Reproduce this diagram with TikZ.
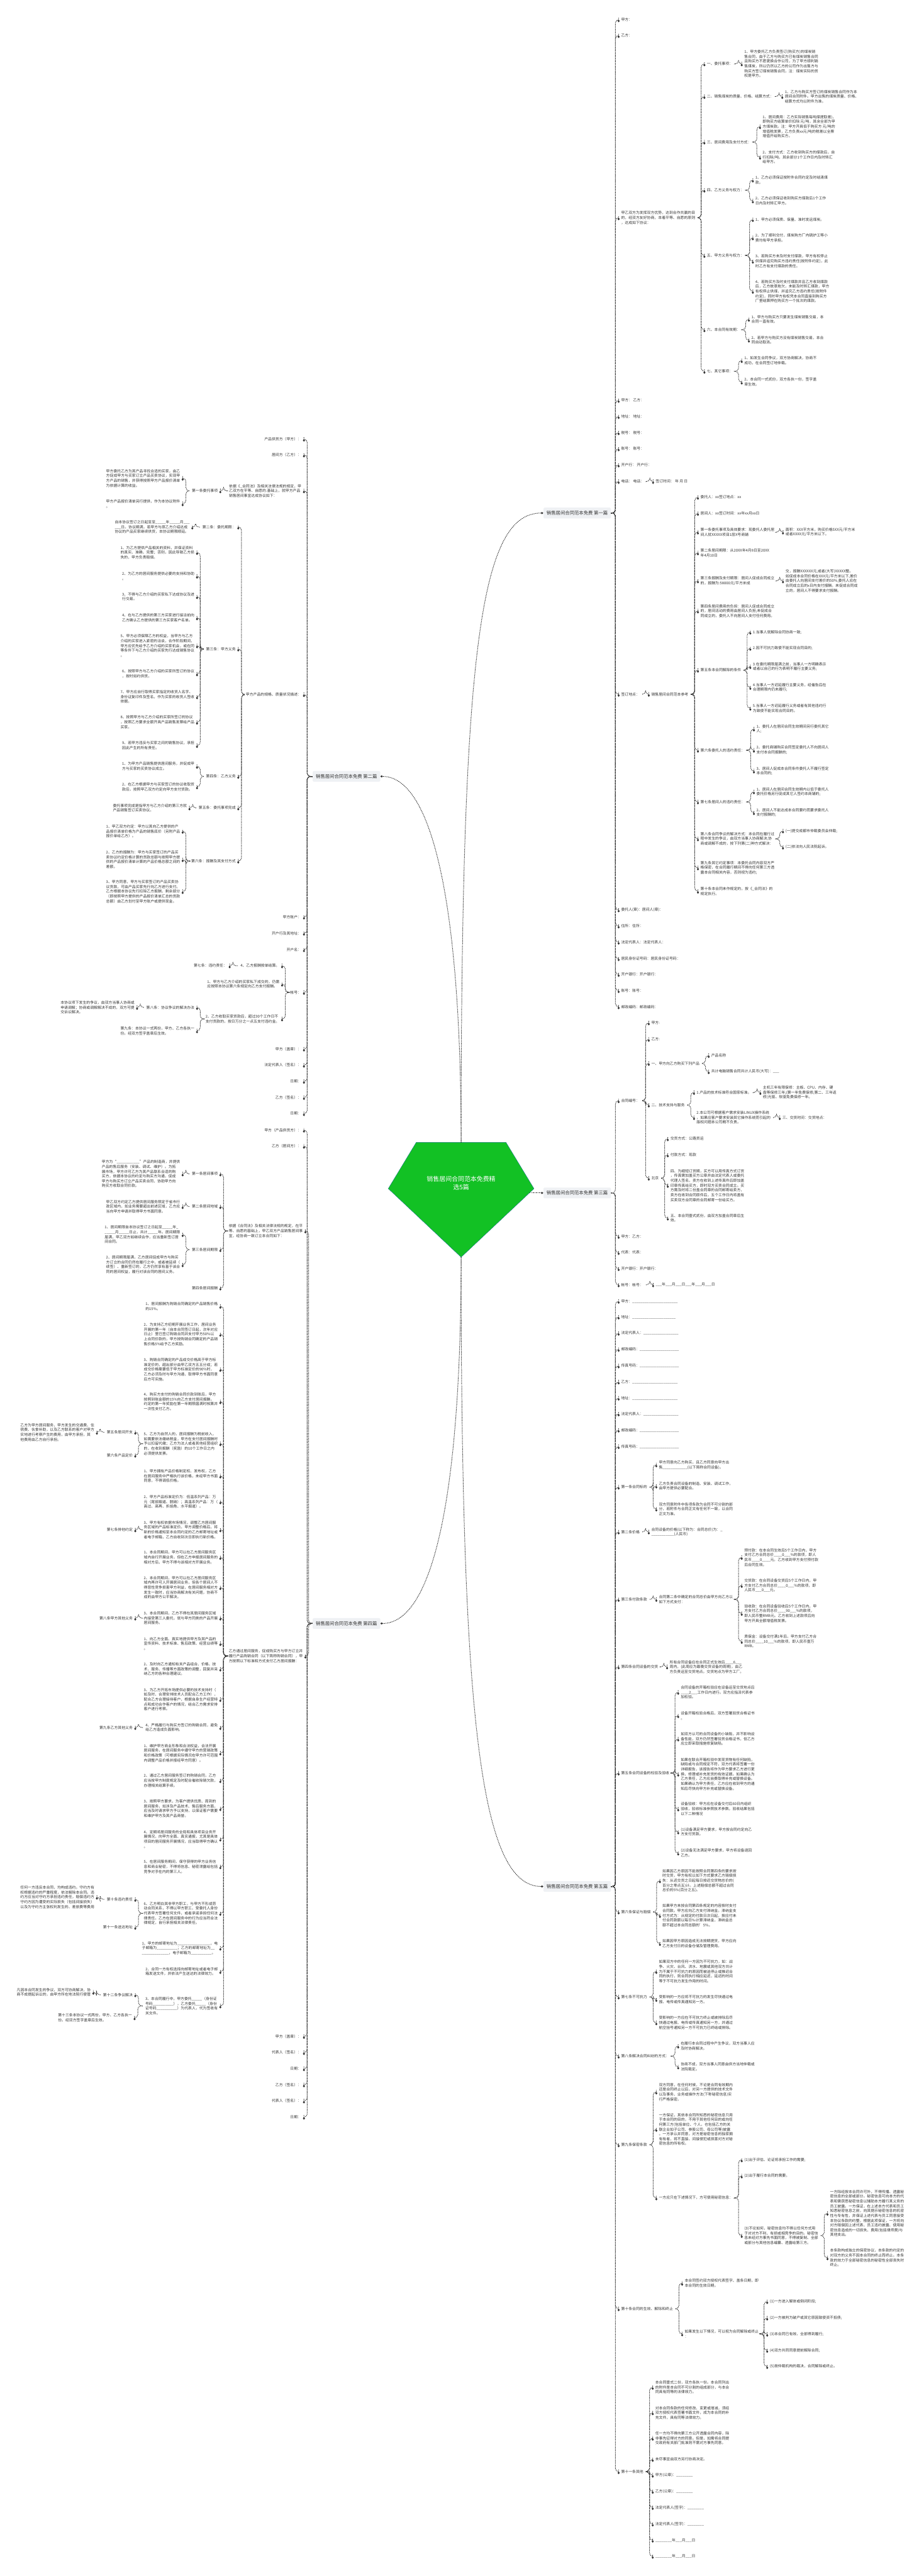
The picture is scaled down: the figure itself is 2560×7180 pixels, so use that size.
\documentclass[tikz,border=0pt]{standalone}
\usepackage{fontspec}
\setmainfont{Noto Sans CJK SC}
\usetikzlibrary{arrows.meta}
\definecolor{inkgray}{HTML}{333333}
\definecolor{titlebg}{HTML}{EFF1F4}
\definecolor{rootgreen}{RGB}{18,193,36}
\definecolor{rootedge}{RGB}{30,120,140}
\tikzset{
  txt/.style={font=\fontsize{10.3}{13.4}\selectfont, align=left, inner xsep=7pt, inner ysep=1pt, text=inkgray},
  rnode/.style={txt, anchor=west, xshift=-7pt},
  lnode/.style={txt, anchor=east, xshift=7pt},
  title/.style={fill=titlebg, rounded corners=3pt, font=\fontsize{12.9}{15}\selectfont, inner xsep=9pt, minimum height=30pt, text=inkgray},
  link/.style={draw=inkgray, line width=1.7pt, dash pattern=on 2.5pt off 2pt, rounded corners=9pt, -{Diamond[length=7pt,width=6pt]}},
}
\begin{document}
\catcode`\_=12
\begin{tikzpicture}[x=1pt, y=-1pt]
\useasboundingbox (0,0) rectangle (2560,7180);
% centre
\fill[rootgreen, draw=rootedge, line width=0.8pt] (1160,3184) -- (1410,3184) -- (1488,3313) -- (1285,3504) -- (1082,3313) -- cycle;
\coordinate (roottop) at (1285,3184);
\coordinate (rootright) at (1476,3325);
\coordinate (rootbot) at (1285,3504);
\node[font=\fontsize{17.4}{23}\selectfont, text=white, align=center] (root) at (1285,3298) {销售居间合同范本免费精\\选5篇};

% 第一篇
\node[title, anchor=west] (p1) at (1514,1430) {销售居间合同范本免费 第一篇};
\node[rnode] (p1a) at (1731,55) {甲方：};
\node[rnode] (p1b) at (1731,99) {乙方：};
\node[rnode] (p1c) at (1731,607) {甲乙双方为发挥双方优势，达到合作共赢的目\\的，经双方友好协商，本着平等、自愿的原则\\，达成如下协议：};
\node[rnode] (p1d) at (1731,1116) {甲方： 乙方：};
\node[rnode] (p1e) at (1731,1161) {地址： 地址：};
\node[rnode] (p1f) at (1731,1206) {税号： 税号：};
\node[rnode] (p1g) at (1731,1251) {账号： 账号：};
\node[rnode] (p1h) at (1731,1296) {开户行： 开户行：};
\node[rnode] (p1i) at (1731,1342) {电话： 电话：};
\node[rnode] (p1i1) at (1827,1342) {签订时间： 年 月 日};
\node[rnode] (p1j) at (1731,1935) {签订地点：};
\node[rnode] (p1j1) at (1815,1935) {销售居间合同范本参考};
\node[rnode] (p1k) at (1731,2536) {委托人(章)：居间人(章)：};
\node[rnode] (p1l) at (1731,2581) {住所：住所：};
\node[rnode] (p1m) at (1731,2626) {法定代表人：法定代表人：};
\node[rnode] (p1n) at (1731,2672) {居民身份证号码：居民身份证号码：};
\node[rnode] (p1o) at (1731,2716) {开户银行：开户银行：};
\node[rnode] (p1p) at (1731,2761) {账号：账号：};
\node[rnode] (p1q) at (1731,2806) {邮政编码：邮政编码：};

\node[rnode] (c1) at (1970,178) {一、委托事项：};
\node[rnode] (c1a) at (2074,178) {1、甲方委托乙方负责签订(购买方)的煤炭销\\售合同，由于乙方与购买方已有煤炭销售合同\\且购买方不愿更换合作公司，为了甲方顺利销\\售煤炭，所以仍然以乙方的公司作为出售方与\\购买方签订煤炭销售合同，注：煤炭实际的货\\权是甲方。};
\node[rnode] (c2) at (1970,269) {二、销售煤炭的质量、价格、结算方式：};
\node[rnode] (c2a) at (2187,269) {1、乙方与购买方签订的煤炭销售合同作为本\\居间合同附件。甲方出售的煤炭质量、价格、\\结算方式均以附件为准。};
\node[rnode] (c3) at (1970,396) {三、居间费用及支付方式：};
\node[rnode] (c3a) at (2125,353) {1、居间费用：乙方实际销售每吨煤提取差)，\\即购买方结算单价扣除 元/吨，其余全部为甲\\方煤炭款。注：甲方开具低于购买方 元/吨的\\增值税发票，乙方负责xx元/吨的税差以全票\\增值开给购买方。};
\node[rnode] (c3b) at (2125,438) {2、支付方式：乙方收到购买方的煤款后，自\\行扣除/吨，其余部分1个工作日内及时转汇\\给甲方。};
\node[rnode] (c4) at (1970,530) {四、乙方义务与权力：};
\node[rnode] (c4a) at (2105,502) {1、乙方必须保证按附件合同约定及时结清煤\\款。};
\node[rnode] (c4b) at (2105,560) {2、乙方必须保证收到购买方煤款后1个工作\\日内及时转汇甲方。};
\node[rnode] (c5) at (1970,712) {五、甲方义务与权力：};
\node[rnode] (c5a) at (2105,612) {1、甲方必须保质、保量、准时发运煤炭。};
\node[rnode] (c5b) at (2105,663) {2、为了顺利交付，煤炭购方厂内锅炉工等小\\费均有甲方承担。};
\node[rnode] (c5c) at (2105,728) {3、若购买方未及时支付煤款，甲方有权停止\\供煤并追究购买方违约责任(按附件约定)，此\\时乙方有支付煤款的责任。};
\node[rnode] (c5d) at (2105,812) {4、若购买方及时支付煤款并且乙方收到煤款\\后，乙方故意拖欠，未能及时转汇煤款，甲方\\有权停止供煤，并追究乙方违约责任(按附件\\约定)，同时甲方有权凭本合同直接到购买方\\厂里结算押在购买方一个批次的煤款。};
\node[rnode] (c6) at (1970,919) {六、本合同有效期：};
\node[rnode] (c6a) at (2094,890) {1、甲方与购买方只要发生煤炭销售交易，本\\合同一直有效。};
\node[rnode] (c6b) at (2094,948) {2、若甲方与购买方没有煤炭销售交易，本合\\同自动取消。};
\node[rnode] (c7) at (1970,1035) {七、其它事项：};
\node[rnode] (c7a) at (2074,1005) {1、如发生合同争议，双方协商解决，协商不\\成功，在合同签订地仲裁。};
\node[rnode] (c7b) at (2074,1065) {2、本合同一式贰份，双方各执一份，签字盖\\章生效。};

\node[rnode] (d1) at (1952,1386) {委托人：xx签订地点：xx};
\node[rnode] (d2) at (1952,1431) {居间人：xx签订时间：xx年xx月xx日};
\node[rnode] (d3) at (1952,1483) {第一条委托事项及具体要求：现委托人委托居\\间人就XXXXX项目1层X号商铺};
\node[rnode] (d3a) at (2189,1483) {面积：XXX平方米，购买价格5XX元/平方米\\或者XXXX元/平方米以下。};
\node[rnode] (d4) at (1952,1541) {第二条居间期限：从20XX年4月8日至20XX\\年4月10日};
\node[rnode] (d5) at (1952,1619) {第三条报酬及支付期限：居间人促成合同成立\\的，报酬为:58000元/平方米成};
\node[rnode] (d5a) at (2189,1619) {交，报酬XXXXXX元,或者(大写)XXXXX整。\\如促成本合同价格在XXX元/平方米以下,差价\\由委托人向居间支付差价的50\%,委托人应在\\合同成立后的x日内支付报酬。未促成合同成\\立的，居间人不得要求支付报酬。};
\node[rnode] (d6) at (1952,1703) {第四条居间费用的负担：居间人促成合同成立\\的，居间活动的费用由居间人负担;未促成合\\同成立的，委托人不向居间人支付任何费用。};
\node[rnode] (d7) at (1952,1868) {第五条本合同解除的条件};
\node[rnode] (d7a) at (2098,1762) {1.当事人就解除合同协商一致;};
\node[rnode] (d7b) at (2098,1807) {2.因不可抗力致使不能实现合同目的;};
\node[rnode] (d7c) at (2098,1858) {3.在委托期限届满之前，当事人一方明确表示\\或者以自己的行为表明不履行主要义务;};
\node[rnode] (d7d) at (2098,1916) {4.当事人一方迟延履行主要义务，经催告后在\\合理期限内仍未履行;};
\node[rnode] (d7e) at (2098,1974) {5.当事人一方迟延履行义务或者有其他违约行\\为致使不能实现合同目的。};
\node[rnode] (d8) at (1952,2091) {第六条委托人的违约责任：};
\node[rnode] (d8a) at (2108,2032) {1、委托人在居间合同生效期间另行委托其它\\人;};
\node[rnode] (d8b) at (2108,2091) {2、委托商铺购买合同签定委托人不向居间人\\支付本合同报酬的;};
\node[rnode] (d8c) at (2108,2149) {3、居间人促成本合同条件委托人不履行签定\\本合同的;};
\node[rnode] (d9) at (1952,2235) {第七条居间人的违约责任：};
\node[rnode] (d9a) at (2108,2207) {1、居间人在居间合同生效期内以低于委托人\\委托价格另行促成其它人签约本商铺的;};
\node[rnode] (d9b) at (2108,2265) {2、居间人不能达成本合同要约而要求委托人\\支付报酬的;};
\node[rnode] (d10) at (1952,2338) {第八条合同争议的解决方式：本合同在履行过\\程中发生的争议，由双方当事人协商解决;协\\商或调解不成的，按下列第(二)种方式解决：};
\node[rnode] (d10a) at (2189,2316) {(一)提交成都市仲裁委员会仲裁;};
\node[rnode] (d10b) at (2189,2361) {(二)依法向人民法院起诉。};
\node[rnode] (d11) at (1952,2419) {第九条其它约定事项：本委托合同内容双方严\\格保密，在合同履行期间不得向任何第三方透\\露本合同相关内容，否则视为违约;};
\node[rnode] (d12) at (1952,2484) {第十条本合同未作规定的，按《_合同法》的\\规定执行。};

% 第三篇
\node[title, anchor=west] (p3) at (1514,3325) {销售居间合同范本免费 第三篇};
\node[rnode] (q1) at (1731,3068) {合同编号：};
\node[rnode] (q1a) at (1815,2851) {甲方:};
\node[rnode] (q1b) at (1815,2897) {乙方:};
\node[rnode] (q1c) at (1815,2964) {一、甲方向乙方购买下列产品};
\node[rnode] (q1c1) at (1982,2942) {产品名称};
\node[rnode] (q1c2) at (1982,2987) {共计电脑销售合同共计人民币(大写)：___};
\node[rnode] (q1d) at (1815,3080) {二、技术支持与服务};
\node[rnode] (q1d1) at (1941,3045) {1.产品的技术标准符合国家标准。};
\node[rnode] (q1d1a) at (2126,3045) {主机三年有限保修：主板、CPU、内存、硬\\盘等保修三年;(第一年免费保修;第二、三年返\\修)光驱、软驱免费保修一年。};
\node[rnode] (q1d2) at (1941,3115) {2.本公司可根据客户需求安装LINUX操作系统\\，如果应客户要求安装其它操作系统而引起的\\版权问题本公司概不负责。};
\node[rnode] (q1d2a) at (2180,3115) {三、交货时间：交货地点：};
\node[rnode] (q1e) at (1815,3284) {北京};
\node[rnode] (q1e1) at (1868,3174) {交货方式：公路货运};
\node[rnode] (q1e2) at (1868,3219) {付款方式：现款};
\node[rnode] (q1e3) at (1868,3304) {四、为缩短订货期，买方可以用传真方式订货\\，传真需加盖买方公章并由法定代表人或委托\\代理人签名，卖方在收到上述传真件后即加盖\\印章传真给买方，即时双方买卖合同成立。买\\方需及时将二份盖合同章的合同邮寄给卖方，\\卖方在收到合同原件后，五个工作日内将盖有\\买卖双方合同章的合同邮寄一份给买方。};
\node[rnode] (q1e4) at (1868,3395) {五、本合同壹式贰份，由双方加盖合同章后生\\效。};
\node[rnode] (q2) at (1731,3446) {甲方：乙方：};
\node[rnode] (q3) at (1731,3491) {代表：代表：};
\node[rnode] (q4) at (1731,3536) {开户银行：开户银行：};
\node[rnode] (q5) at (1731,3581) {帐号：帐号：};
\node[rnode] (q5a) at (1827,3581) {___年___月___日___年___月___日};

% 第五篇
\node[title, anchor=west] (p5) at (1514,5258) {销售居间合同范本免费 第五篇};
\node[rnode] (r1) at (1731,3627) {甲方：______________________};
\node[rnode] (r2) at (1731,3671) {地址：_____________________};
\node[rnode] (r3) at (1731,3716) {法定代表人：_________________};
\node[rnode] (r4) at (1731,3761) {邮政编码：___________________};
\node[rnode] (r5) at (1731,3807) {传真号码：___________________};
\node[rnode] (r6) at (1731,3852) {乙方：______________________};
\node[rnode] (r7) at (1731,3897) {地址：______________________};
\node[rnode] (r8) at (1731,3941) {法定代表人：_________________};
\node[rnode] (r9) at (1731,3986) {邮政编码：___________________};
\node[rnode] (r10) at (1731,4032) {传真号码：___________________};
\node[rnode] (r11) at (1731,4145) {第一条合同标的};
\node[rnode] (r11a) at (1836,4083) {甲方同意向乙方购买，且乙方同意向甲方出\\售____________(以下简称合同设备)。};
\node[rnode] (r11b) at (1836,4142) {乙方负责合同设备的制造、安装、调试工作，\\由甲方提供必要配合。};
\node[rnode] (r11c) at (1836,4206) {双方同意附件中各项条款为合同不可分割的部\\分，若附件与合同正文有任何不一致，以合同\\正文为准。};
\node[rnode] (r12) at (1731,4270) {第二条价格};
\node[rnode] (r12a) at (1815,4270) {合同设备的价格(以下称为：合同总价)为：_\\___________(人民币)};
\node[rnode] (r13) at (1731,4458) {第三条付款条款};
\node[rnode] (r13a) at (1836,4458) {合同第二条中确定的合同总价由甲方向乙方以\\如下方式支付：};
\node[rnode] (r13a1) at (2074,4341) {预付款：在本合同生效后5个工作日内，甲方\\支付乙方合同总价____0___\%的款项，即人\\民币____0____元。乙方收到甲方支付预付款\\后合同生效。};
\node[rnode] (r13a2) at (2074,4419) {交货款：在合同设备交货后5个工作日内，甲\\方支付乙方合同总价____0___\%的款项，即\\人民币___0___元。};
\node[rnode] (r13a3) at (2074,4497) {验收款：在合同设备验收后5个工作日内，甲\\方支付乙方合同总价____90___\%的款项，\\即人民币整RMB元。乙方收到上述款项后向\\甲方开具全额增值税发票。};
\node[rnode] (r13a4) at (2074,4575) {质保金：设备交付满1年后，甲方支付乙方合\\同总价____10___\%的款项，即人民币壹万\\RMB。};
\node[rnode] (r14) at (1731,4646) {第四条合同设备的交货};
\node[rnode] (r14a) at (1866,4646) {所有合同设备应在合同正式生效后____6___\\周内，(此周应为最晚交货设备的周期)，由乙\\方负责运至交货地点。交货地点为甲方工厂。};
\node[rnode] (r15) at (1731,4942) {第五条合同设备的检验及验收};
\node[rnode] (r15a) at (1897,4717) {合同设备的开箱检验应在设备运至交货地点后\\____2___工作日内进行。双方应指派代表参\\加检验。};
\node[rnode] (r15b) at (1897,4782) {设备开箱检验合格后，双方签署验货合格证书\\。};
\node[rnode] (r15c) at (1897,4847) {如双方认可的合同设备的小缺陷，并不影响设\\备性能，双方仍然签署验货合格证书，但乙方\\应立即采取措施修复缺陷。};
\node[rnode] (r15d) at (1897,4945) {如果在联合开箱检验中发现货物有任何缺陷，\\缺陷或与合同规定不符，双方代表将签署一份\\详细报告，该报告将作为甲方要求乙方进行更\\换，修理或补充发货的有效证据。如果确认为\\乙方责任，乙方应自费取得补充或替换设备。\\如果确认为甲方责任，乙方应在收到甲方的通\\知后尽快向甲方补充或替换设备。};
\node[rnode] (r15e) at (1897,5042) {设备验收：甲方应在设备交付后60日内组织\\验收，验收标准参照技术参数。验收结果包括\\以下二种情况};
\node[rnode] (r15f) at (1897,5106) {(1)设备满足甲方要求，甲方按合同约定向乙\\方支付货款。};
\node[rnode] (r15g) at (1897,5165) {(2)设备无法满足甲方要求，甲方将设备退回\\乙方。};
\node[rnode] (r16) at (1731,5329) {第六条保证与赔偿};
\node[rnode] (r16a) at (1846,5242) {如果因乙方原因不能按照合同第四条的要求按\\时交货，甲方有权以如下方式要求乙方赔偿损\\失：从迟交货之日起每日按迟交货物总价的(\\百分之零点五)计。上述赔偿总额不超过合同\\总价的5\%(百分之五)。};
\node[rnode] (r16b) at (1846,5339) {如果甲方未按合同第四条规定的内容按时支付\\合同款。甲方应向乙方支付滞纳金。滞纳金支\\付方式为：从规定的付款日次日起，按应付未\\付合同款额以每日‰计算滞纳金，滞纳金总\\额不超过本合同总额的'5\%。};
\node[rnode] (r16c) at (1846,5417) {如果因甲方原因造成无法按期提货，甲方应向\\乙方支付日的设备仓储及管理费用。};
\node[rnode] (r17) at (1731,5566) {第七条不可抗力};
\node[rnode] (r17a) at (1836,5495) {如果双方中的任何一方因为不可抗力，如：战\\争、火灾、台风、洪水、地震或其他双方共计\\为不属于不可抗力的原因而被迫停止或推迟合\\同的执行，则合同执行相应延迟，延迟的时间\\等于不可抗力发生作用的时间。};
\node[rnode] (r17b) at (1836,5573) {受影响的一方应将不可抗力的发生尽快通过电\\报、电传或传真通知另一方。};
\node[rnode] (r17c) at (1836,5638) {受影响的一方应在不可抗力终止或被排除后尽\\快通过电报、电传或传真通知另一方，并通过\\航空挂号通知另一方不可抗力已终结或排除。};
\node[rnode] (r18) at (1731,5731) {第八条解决合同纠纷的方式：};
\node[rnode] (r18a) at (1897,5703) {在履行本合同过程中产生争议，双方当事人应\\及时协商解决。};
\node[rnode] (r18b) at (1897,5761) {协商不成，双方当事人同意由供方当地仲裁或\\法院裁定。};
\node[rnode] (r19) at (1731,5978) {第九条保密条款};
\node[rnode] (r19a) at (1836,5831) {双方同意，在任何时候，不论是合同有效期内\\还是合同终止以后，对另一方提供的技术文件\\以及事务、业务或操作方法(下称秘密信息)实\\行严格保密。};
\node[rnode] (r19b) at (1836,5935) {一方保证，其依本合同所知悉的秘密信息只用\\于本合同的目的，不用于其他任何目的或向任\\何第三方(包括单位、个人，也包括乙方的关\\联企业如子公司、参股公司、母公司等)披露\\。一方承认并同意，对方是秘密信息的独家拥\\有有者，将不直接、间接侵犯或损害对方对秘\\密信息的所有权。};
\node[rnode] (r19c) at (1836,6126) {一方应只在下述情况下，方可使用秘密信息：};
\node[rnode] (r19c1) at (2074,6020) {(1)出于评估、论证将承担工作的需要;};
\node[rnode] (r19c2) at (2074,6065) {(2)出于履行本合同的需要。};
\node[rnode] (r19c3) at (2074,6231) {(3)不论如何，秘密信息均不得以任何方式用\\于对对方不利、有损或相竞争的目的。秘密信\\息未经对方事先书面同意，不得被复制、全部\\或部分与其他信息编纂、透露给第三方。};
\node[rnode] (r19c3a) at (2313,6169) {一方除经按本合同许可外，不得传播、透露秘\\密信息的全部或部分。秘密信息可向本方的代\\表和需获悉秘密信息以辅助本方履行其义务的\\员工披露。一方保证，在上述本方代表和员工\\知悉秘密信息之前，向其提示秘密信息的机密\\性与专有性，并保证上述代表与员工同意接受\\本协议条款的约整，根据此项保证，一方将向\\对方赔偿因上述代表、员工违约披露、使用秘\\密信息造成的一切损失、费用(包括律师费)与\\其他支出。};
\node[rnode] (r19c3b) at (2313,6293) {本条款构成独立的保密协议，本条款的约定的\\对双方的义务不因本合同的终止而终止。本条\\款的效力于全部秘密信息的秘密性全部丧失时\\终止。};
\node[rnode] (r20) at (1731,6435) {第十条合同的生效、解除和终止};
\node[rnode] (r20a) at (1908,6364) {本合同签约双方授权代表签字、盖条日期，即\\本合同的生效日期。};
\node[rnode] (r20b) at (1908,6505) {如果发生以下情况，可以视为合同解除或终止\\：};
\node[rnode] (r20b1) at (2145,6415) {(1)一方进入解体或倒闭阶段;};
\node[rnode] (r20b2) at (2145,6461) {(2)一方被判为破产或其它原因致使资不抵债;};
\node[rnode] (r20b3) at (2145,6506) {(3)本合同已有效、全部得到履行;};
\node[rnode] (r20b4) at (2145,6551) {(4)双方共同同意提前解除合同;};
\node[rnode] (r20b5) at (2145,6596) {(5)按仲裁机构的裁决，合同解除或终止。};
\node[rnode] (r21) at (1731,6889) {第十一条其他};
\node[rnode] (r21a) at (1826,6654) {本合同壹式二份，双方各执一份。本合同列出\\的附件是本合同不可分割的组成部分，与本合\\同具有同等的法律效力。};
\node[rnode] (r21b) at (1826,6725) {对本合同条款的任何修改、变更或增减，须经\\双方授权代表签署书面文件，成为本合同的补\\充文件，具有同等法律效力。};
\node[rnode] (r21c) at (1826,6796) {任一方均不得向第三方公开透露合同内容，除\\非事先征得对方的同意。但是，如需将合同提\\交政府有关部门批准则不需对方事先同意。};
\node[rnode] (r21d) at (1826,6855) {未尽事宜由双方另行协商决定。};
\node[rnode] (r21e) at (1826,6899) {甲方(公章)：________};
\node[rnode] (r21f) at (1826,6944) {乙方(公章)：________};
\node[rnode] (r21g) at (1826,6989) {法定代表人(签字)：________};
\node[rnode] (r21h) at (1826,7035) {法定代表人(签字)：________};
\node[rnode] (r21i) at (1826,7080) {________年___月___日};
\node[rnode] (r21j) at (1826,7125) {________年___月___日};

% 第二篇
\node[title, anchor=east] (p2) at (1060,2164) {销售居间合同范本免费 第二篇};
\node[lnode] (s1) at (840,1224) {产品供货方（甲方）：};
\node[lnode] (s2) at (840,1268) {居间方（乙方）：};
\node[lnode] (s3) at (840,1368) {依据《_合同法》及相关法律法规的规定，甲\\乙双方在平等、自愿的.基础上，就甲方产品\\销售居间事宜达成协议如下：};
\node[lnode] (s3a) at (607,1368) {第一条委托事项};
\node[lnode] (s3a1) at (502,1333) {甲方委托乙方为其产品寻找合适的买家，由乙\\方促成甲方与买家订立产品买卖协议，实现甲\\方产品的销售，并获得按照甲方产品报价清单\\为依据计算的收益。};
\node[lnode] (s3a2) at (502,1404) {甲方产品报价清单另行提供，作为本协议附件\\。};
\node[lnode] (s4) at (840,1936) {甲方产品的规格、质量状况描述：};
\node[lnode] (s4a) at (657,1469) {第二条：委托期限：};
\node[lnode] (s4a1) at (529,1469) {自本协议签订之日起至至_____年_____月___\\___日。协议期满，若甲方与原乙方介绍达成\\协议的产品买家继续供货，本协议期限顺延。};
\node[lnode] (s4b) at (657,1809) {第三条：甲方义务};
\node[lnode] (s4b1) at (542,1540) {1、为乙方提供产品相关的资料，并保证资料\\的真实、准确、完整；否则，因此导致乙方损\\失的，甲方负责赔偿。};
\node[lnode] (s4b2) at (542,1606) {2、为乙方的居间服务提供必要的支持和协助\\。};
\node[lnode] (s4b3) at (542,1663) {3、不得与乙方介绍的买家私下达成协议及进\\行交易。};
\node[lnode] (s4b4) at (542,1722) {4、在与乙方提供的第三方买家进行接洽前向\\乙方确认乙方提供的第三方买家客户名单。};
\node[lnode] (s4b5) at (542,1800) {5、甲方必须保障乙方的权益，当甲方与乙方\\介绍的买家进入紧密的洽谈，合作阶段期间，\\甲方应优先给予乙方介绍的买家机会，或在同\\等条件下与乙方介绍的买家先行达成销售协议\\。};
\node[lnode] (s4b6) at (542,1878) {6、按照甲方与乙方介绍的买家所签订的协议\\，按时如约供货。};
\node[lnode] (s4b7) at (542,1942) {7、甲方应自行取得买家指定的收货人名字、\\身份证复印件及签名，作为买家的收货人签收\\依据。};
\node[lnode] (s4b8) at (542,2013) {8、按照甲方与乙方介绍的买家所签订的协议\\，按照乙方要求全额开具产品销售发票给产品\\买家。};
\node[lnode] (s4b9) at (542,2078) {9、若甲方违反与买家之间的销售协议，承担\\因此产生的所有责任。};
\node[lnode] (s4c) at (657,2164) {第四条：乙方义务};
\node[lnode] (s4c1) at (542,2136) {1、为甲方产品销售提供居间服务，并促成甲\\方与买家的买卖协议成立。};
\node[lnode] (s4c2) at (542,2193) {2、在乙方根据甲方与买家签订的协议收取货\\款后，按照甲乙双方约定向甲方支付货款。};
\node[lnode] (s4d) at (657,2252) {第五条：委托事项完成};
\node[lnode] (s4d1) at (521,2252) {委托事项完成是指甲方与乙方介绍的第三方就\\产品销售签订买卖协议。};
\node[lnode] (s4e) at (657,2400) {第六条：报酬及其支付方式};
\node[lnode] (s4e1) at (502,2317) {1、甲乙双方约定：甲方以其向乙方提供的产\\品报价清单价格为产品的销售底价（另附产品\\报价单给乙方）。};
\node[lnode] (s4e2) at (502,2396) {2、乙方的报酬为：甲方与买家签订的产品买\\卖协议约定价格计算的货款总额与按照甲方提\\供的产品报价清单计算的产品价格总额之间的\\差额。};
\node[lnode] (s4e3) at (502,2485) {3、甲方同意，甲方与买家签订的产品买卖协\\议货款，可由产品买家先行向乙方进行支付。\\乙方根据本协议先行扣除乙方报酬，剩余部分\\（即按照甲方提供的产品报价清单汇总的货款\\总额）由乙方划付至甲方账户或提供现金。};
\node[lnode] (s5) at (840,2556) {甲方账户：};
\node[lnode] (s6) at (840,2601) {开户行及其地址：};
\node[lnode] (s7) at (840,2647) {开户名：};
\node[lnode] (s8) at (840,2766) {帐号：};
\node[lnode] (s8a) at (779,2692) {4、乙方报酬按单结算。};
\node[lnode] (s8a1) at (633,2692) {第七条：违约责任：};
\node[lnode] (s8b) at (779,2743) {1、甲方与乙方介绍的买家私下成交的，仍需\\应按照本协议第六条规定向乙方支付报酬。};
\node[lnode] (s8c) at (779,2840) {2、乙方收取买家货款后，超过30个工作日不\\支付货款的，按日万分之一点五支付违约金。};
\node[lnode] (s8c1) at (542,2808) {第八条：协议争议的解决办法};
\node[lnode] (s8c1a) at (375,2808) {本协议项下发生的争议，由双方当事人协商或\\申请调解；协商或调解解决不成的，双方可提\\交诉讼解决。};
\node[lnode] (s8c2) at (542,2873) {第九条：本协议一式两份，甲方、乙方各执一\\份。经双方签字盖章后生效。};
\node[lnode] (s9) at (840,2924) {甲方（盖章）：};
\node[lnode] (s10) at (840,2969) {法定代表人（签名）：};
\node[lnode] (s11) at (840,3014) {日期：};
\node[lnode] (s12) at (840,3059) {乙方（签名）：};
\node[lnode] (s13) at (840,3104) {日期：};

% 第四篇
\node[title, anchor=east] (p4) at (1060,4525) {销售居间合同范本免费 第四篇};
\node[lnode] (t1) at (840,3150) {甲方（产品供货方）：};
\node[lnode] (t2) at (840,3195) {乙方（居间方）：};
\node[lnode] (t3) at (844,3431) {依据《合同法》及相关法律法规的规定，在平\\等、自愿的基础上，甲乙双方产品销售居间事\\宜，经协商一致订立本合同如下：};
\node[lnode] (t3a) at (607,3272) {第一条居间事项};
\node[lnode] (t3a1) at (502,3272) {甲方为“___________”产品的制造商，并提供\\产品的售后服务（安装、调试、维护）。为拓\\展市场，甲方许可乙方为其产品联系合适的购\\买方，依据本协议的约定与购买方沟通，促成\\甲方与购买方订立产品买卖合同，协助甲方向\\购买方收取合同价款。};
\node[lnode] (t3b) at (607,3363) {第二条居间地域};
\node[lnode] (t3b1) at (502,3363) {甲乙双方约定乙方提供居间服务限定于省市行\\政区域内，如业务需要超出前述区域，乙方应\\当向甲方申请并取得甲方书面同意。};
\node[lnode] (t3c) at (607,3483) {第三条居间期限};
\node[lnode] (t3c1) at (502,3441) {1、居间期限自本协议签订之日起至_____年_\\_____月_____日止，共计_____年。居间期限\\届满，甲乙双方如继续合作，应当重新签订居\\间合同。};
\node[lnode] (t3c2) at (502,3525) {2、居间期限届满，乙方居间促成甲方与购买\\方订立的合同仍然在履行之中，或者被延续（\\续签）、重新签订的，乙方仍然享有基于该合\\同的居间权益，履行对该合同的居间义务。};
\node[lnode] (t3d) at (607,3590) {第四条居间报酬};
\node[lnode] (t4) at (844,4616) {乙方通过居间服务，促成购买方与甲方订立并\\履行产品购销合同（以下简称购销合同），甲\\方按照以下标准和方式支付乙方居间报酬：};
\node[lnode] (t4a) at (607,3641) {1、居间报酬为购销合同确定的产品销售价格\\的15\%。};
\node[lnode] (t4b) at (607,3719) {2、为支持乙方初期开展业务工作，居间业务\\开展的第一年（自本合同签订日起，次年对应\\日止）里已签订购销合同并支付甲方50\%以\\上合同价款的，甲方按购销合同确定的产品销\\售价格5\%给予乙方奖励。};
\node[lnode] (t4c) at (607,3817) {3、购销合同确定的产品成交价格高于甲方标\\准定价的，超出部分由甲乙双方五五分成；若\\成交价格需要低于甲方标准定价的90\%时，\\乙方必须及时与甲方沟通，取得甲方书面同意\\后方可实施。};
\node[lnode] (t4d) at (607,3907) {4、购买方支付的购销合同价款到账后，甲方\\按照到账金额的15\%向乙方支付居间报酬。\\约定的第一年奖励在第一年期限届满时核算并\\一次性支付乙方。};
\node[lnode] (t4e) at (607,4024) {5、乙方为自然人的，居间报酬为税前收入，\\如需要依法缴纳税金，甲方在支付居间报酬时\\予以扣留代缴；乙方为法人或者其他经营组织\\的，在收到报酬（奖励）的10个工作日之内\\必须提供发票。};
\node[lnode] (t4e1) at (370,3992) {第五条居间开支};
\node[lnode] (t4e1a) at (263,3992) {乙方为甲方居间服务，甲方发生的交通费、住\\宿费、伙食补助，以及乙方联系的客户对甲方\\实地进行考察产生的费用，由甲方承担，其\\他费用由乙方自行承担。};
\node[lnode] (t4e2) at (370,4056) {第六条产品定价};
\node[lnode] (t4f) at (607,4114) {1、甲方拥有产品价格制定权、发布权，乙方\\在居间服务中严格执行该价格，未经甲方书面\\同意，不得调低价格。};
\node[lnode] (t4g) at (607,4186) {2、甲方产品标准定价为：低温系列产品：万\\元（尾部烟道、脱硝）；高温系列产品：万（\\高过、高再、折焰角、水平烟道）。};
\node[lnode] (t4h) at (607,4264) {3、甲方有权依据市场情况，调整乙方居间服\\务区域的产品标准定价。甲方调整价格后，将\\新的价格通知至本合同约定的乙方邮寄地址或\\者电子邮箱，乙方自收到次日即执行新价格。};
\node[lnode] (t4h1) at (370,4264) {第七条排他约定};
\node[lnode] (t4i) at (607,4341) {1、本合同期间，甲方可以在乙方居间服务区\\域内自行开展业务，但在乙方申报居间服务的\\相对方后，甲方不得与该相对方开展业务。};
\node[lnode] (t4j) at (607,4425) {2、本合同期间，甲方可以在乙方居间服务区\\域内再许可人开展居间业务，但各个居间人不\\得恶性竞争损害甲方利益，在居间服务相对方\\发生一致时，应当协商解决有关问题，协商不\\成的由甲方公平解决。};
\node[lnode] (t4k) at (607,4510) {3、本合同期间，乙方不得在其居间服务区域\\内接受第三人委托，就与甲方同类的产品开展\\居间服务。};
\node[lnode] (t4k1) at (370,4510) {第八条甲方其他义务};
\node[lnode] (t4l) at (607,4581) {1、向乙方全面、真实地提供甲方及其产品的\\宣传资料、技术标准、售后政策、经营业绩等\\。};
\node[lnode] (t4m) at (607,4652) {2、及时向乙方通知有关产品组合、价格、技\\术、服务、传播等方面政策的调整，回复并采\\纳乙方的各种合理建议。};
\node[lnode] (t4n) at (607,4737) {3、为乙方开拓市场提供必要的技术支持时（\\如及时、合理安排技术人员配合乙方工作），\\配合乙方合理接待客户，根据自身生产经营特\\点和成功合作客户的情况，结合乙方需求安排\\客户进行考察。};
\node[lnode] (t4o) at (607,4815) {4、严格履行与购买方签订的购销合同，避免\\给乙方造成负面影响。};
\node[lnode] (t4o1) at (370,4815) {第九条乙方其他义务};
\node[lnode] (t4p) at (607,4886) {1、维护甲方商业形象和合法权益，合法开展\\居间服务，在居间服务中遵守甲方的营销政策\\和价格政策（可根据实际情况在甲方许可范围\\内调整产品价格并报经甲方同意）。};
\node[lnode] (t4q) at (607,4963) {2、通过乙方居间服务签订的购销合同，乙方\\应当按甲方制度规定及时配合催收除销欠款，\\办理相关结算手续。};
\node[lnode] (t4r) at (607,5041) {3、按照甲方要求，为客户提供优质、周到的\\居间服务，如涉及产品技术、售后服务方面，\\应当及时请求甲方予以支持，以保证客户需要\\和维护甲方及其产品商誉。};
\node[lnode] (t4s) at (607,5126) {4、定期将居间服务的全局和具体项目业务开\\展情况，向甲方全面、真实通报，尤其是具体\\项目的居间服务开展情况，应当取得甲方确认\\。};
\node[lnode] (t4t) at (607,5203) {5、在居间服务期间，保守获得的甲方业务信\\息和商业秘密，不得将信息、秘密泄露给包括\\竞争对手在内的第三人。};
\node[lnode] (t4u) at (607,5333) {6、乙方明白其非甲方职工，与甲方不形成劳\\动合同关系，不得以甲方职工、受委托人身份\\代表甲方签署任何文件，或者承诺承担任何法\\律责任。乙方在居间服务中的行为应当符合法\\律规定，自行承担相关法律责任。};
\node[lnode] (t4u1) at (370,5294) {第十条违约责任};
\node[lnode] (t4u1a) at (263,5288) {任何一方违反本合同，均构成违约。守约方有\\权根据违约的严重程度，依法解除本合同。违\\约方应当对守约方承担违约责任，赔偿违约方\\守约方因为遭受的实际损失（包括间接损失）\\以及为守约方主张权利发生的、差旅费等费用};
\node[lnode] (t4u2) at (370,5372) {第十一条送达地址};
\node[lnode] (t4v) at (607,5430) {1、甲方的邮寄地址为________________，电\\子邮箱为__________；乙方的邮寄地址为__\\_____________，电子邮箱为__________。};
\node[lnode] (t4w) at (607,5495) {2、合同一方有权选择向邮寄地址或者电子邮\\箱发送文件，并依法产生送达的法律效力。};
\node[lnode] (t4x) at (607,5591) {3、本合同履行中，甲方委托_____（身份证\\号码__________），乙方委托_____（身份\\证号码__________）为代表人，代为签收有\\关文件。};
\node[lnode] (t4x1) at (370,5560) {第十二条争议解决};
\node[lnode] (t4x1a) at (253,5553) {凡因本合同发生的争议，双方可协商解决，协\\商不成提起诉讼的，由甲方所在地法院行使管};
\node[lnode] (t4x2) at (368,5624) {第十三条本协议一式两份，甲方、乙方各执一\\份。经双方签字盖章后生效。};
\node[lnode] (t5) at (840,5676) {甲方（盖章）：};
\node[lnode] (t6) at (840,5721) {代表人（签名）：};
\node[lnode] (t7) at (840,5766) {日期：};
\node[lnode] (t8) at (840,5811) {乙方（签名）：};
\node[lnode] (t9) at (840,5856) {代表人（签名）：};
\node[lnode] (t10) at (840,5901) {日期：};

% main branches
\draw[link, rounded corners=0pt] (roottop) .. controls (1285,1800) and (1340,1430) .. (p1.west);
\draw[link, rounded corners=0pt] (roottop) .. controls (1285,2500) and (1200,2164) .. (p2.east);
\draw[link] (rootright) -- (p3.west);
\draw[link, rounded corners=0pt] (rootbot) .. controls (1285,4200) and (1200,4525) .. (p4.east);
\draw[link, rounded corners=0pt] (rootbot) .. controls (1285,4800) and (1340,5258) .. (p5.west);

% right-hand links
\foreach \a/\b in {p1/p1a, p1/p1b, p1/p1c, p1/p1d, p1/p1e, p1/p1f, p1/p1g, p1/p1h, p1/p1i, p1/p1j, p1/p1k, p1/p1l, p1/p1m, p1/p1n, p1/p1o, p1/p1p, p1/p1q, p1i/p1i1, p1j/p1j1,
  p1c/c1, p1c/c2, p1c/c3, p1c/c4, p1c/c5, p1c/c6, p1c/c7, c1/c1a, c2/c2a, c3/c3a, c3/c3b, c4/c4a, c4/c4b, c5/c5a, c5/c5b, c5/c5c, c5/c5d, c6/c6a, c6/c6b, c7/c7a, c7/c7b,
  p1j1/d1, p1j1/d2, p1j1/d3, p1j1/d4, p1j1/d5, p1j1/d6, p1j1/d7, p1j1/d8, p1j1/d9, p1j1/d10, p1j1/d11, p1j1/d12, d3/d3a, d5/d5a, d7/d7a, d7/d7b, d7/d7c, d7/d7d, d7/d7e, d8/d8a, d8/d8b, d8/d8c, d9/d9a, d9/d9b, d10/d10a, d10/d10b,
  p3/q1, p3/q2, p3/q3, p3/q4, p3/q5, q1/q1a, q1/q1b, q1/q1c, q1/q1d, q1/q1e, q1c/q1c1, q1c/q1c2, q1d/q1d1, q1d/q1d2, q1d1/q1d1a, q1d2/q1d2a, q1e/q1e1, q1e/q1e2, q1e/q1e3, q1e/q1e4, q5/q5a,
  p5/r1, p5/r2, p5/r3, p5/r4, p5/r5, p5/r6, p5/r7, p5/r8, p5/r9, p5/r10, p5/r11, p5/r12, p5/r13, p5/r14, p5/r15, p5/r16, p5/r17, p5/r18, p5/r19, p5/r20, p5/r21,
  r11/r11a, r11/r11b, r11/r11c, r12/r12a, r13/r13a, r13a/r13a1, r13a/r13a2, r13a/r13a3, r13a/r13a4, r14/r14a, r15/r15a, r15/r15b, r15/r15c, r15/r15d, r15/r15e, r15/r15f, r15/r15g,
  r16/r16a, r16/r16b, r16/r16c, r17/r17a, r17/r17b, r17/r17c, r18/r18a, r18/r18b, r19/r19a, r19/r19b, r19/r19c, r19c/r19c1, r19c/r19c2, r19c/r19c3, r19c3/r19c3a, r19c3/r19c3b,
  r20/r20a, r20/r20b, r20b/r20b1, r20b/r20b2, r20b/r20b3, r20b/r20b4, r20b/r20b5, r21/r21a, r21/r21b, r21/r21c, r21/r21d, r21/r21e, r21/r21f, r21/r21g, r21/r21h, r21/r21i, r21/r21j}
  \draw[link] (\a.east) -| ([xshift=-9pt]\b.west) -- (\b.west);

% left-hand links
\foreach \a/\b in {p2/s1, p2/s2, p2/s3, p2/s4, p2/s5, p2/s6, p2/s7, p2/s8, p2/s9, p2/s10, p2/s11, p2/s12, p2/s13,
  s3/s3a, s3a/s3a1, s3a/s3a2, s4/s4a, s4/s4b, s4/s4c, s4/s4d, s4/s4e, s4a/s4a1, s4b/s4b1, s4b/s4b2, s4b/s4b3, s4b/s4b4, s4b/s4b5, s4b/s4b6, s4b/s4b7, s4b/s4b8, s4b/s4b9,
  s4c/s4c1, s4c/s4c2, s4d/s4d1, s4e/s4e1, s4e/s4e2, s4e/s4e3, s8/s8a, s8/s8b, s8/s8c, s8a/s8a1, s8c/s8c1, s8c/s8c2, s8c1/s8c1a,
  p4/t1, p4/t2, p4/t3, p4/t4, p4/t5, p4/t6, p4/t7, p4/t8, p4/t9, p4/t10,
  t3/t3a, t3/t3b, t3/t3c, t3/t3d, t3a/t3a1, t3b/t3b1, t3c/t3c1, t3c/t3c2,
  t4/t4a, t4/t4b, t4/t4c, t4/t4d, t4/t4e, t4/t4f, t4/t4g, t4/t4h, t4/t4i, t4/t4j, t4/t4k, t4/t4l, t4/t4m, t4/t4n, t4/t4o, t4/t4p, t4/t4q, t4/t4r, t4/t4s, t4/t4t, t4/t4u, t4/t4v, t4/t4w, t4/t4x,
  t4e/t4e1, t4e/t4e2, t4e1/t4e1a, t4h/t4h1, t4k/t4k1, t4o/t4o1, t4u/t4u1, t4u/t4u2, t4u1/t4u1a, t4x/t4x1, t4x/t4x2, t4x1/t4x1a}
  \draw[link] (\a.west) -| ([xshift=9pt]\b.east) -- (\b.east);
\end{tikzpicture}
\end{document}
